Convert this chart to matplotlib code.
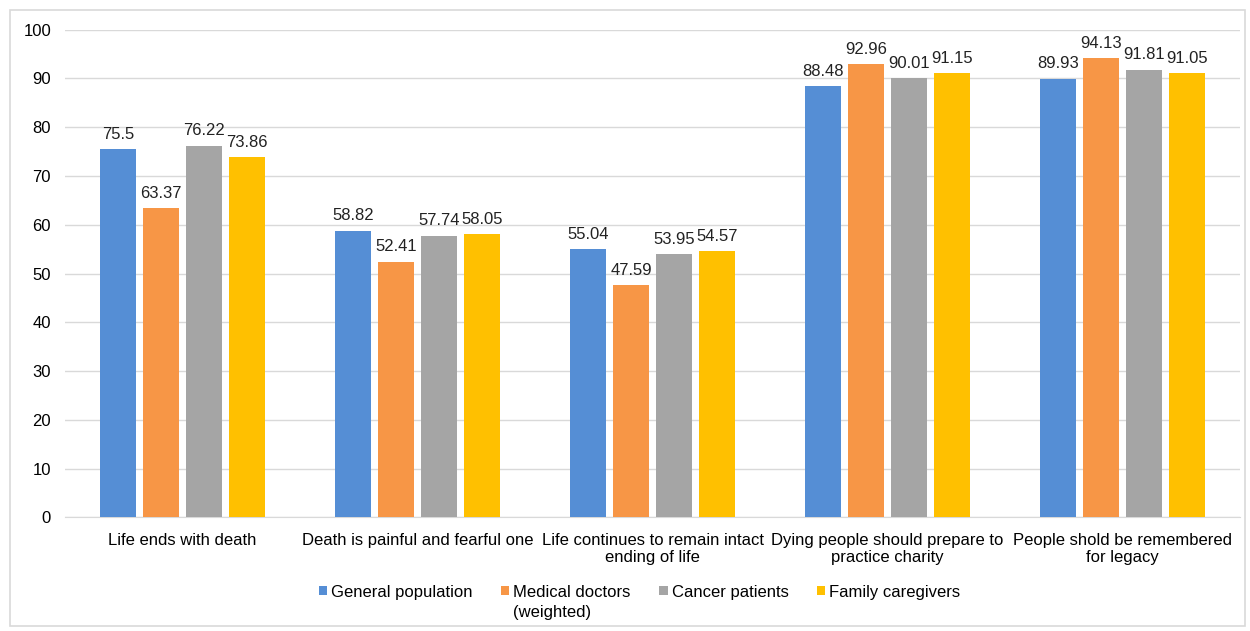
import matplotlib.pyplot as plt
import numpy as np
from matplotlib.patches import Rectangle

plt.rcParams['font.family'] = ['Liberation Sans', 'DejaVu Sans']

categories = [
    "Life ends with death",
    "Death is painful and fearful one",
    "Life continues to remain intact\nending of life",
    "Dying people should prepare to\npractice charity",
    "People shold be remembered\nfor legacy",
]
series_names = ["General population", "Medical doctors", "Cancer patients", "Family caregivers"]
general = [75.5, 58.82, 55.04, 88.48, 89.93]
doctors = [63.37, 52.41, 47.59, 92.96, 94.13]
patients = [76.22, 57.74, 53.95, 90.01, 91.81]
caregivers = [73.86, 58.05, 54.57, 91.15, 91.05]
colors = ["#558ED5", "#F79646", "#A5A5A5", "#FFC000"]
y_ticks = list(range(0, 101, 10))

fig = plt.figure(figsize=(12.5, 6.31), dpi=100)
fig.patches.append(Rectangle((0.008, 0.008), 0.988, 0.976, transform=fig.transFigure,
                             fill=False, edgecolor="#D9D9D9", linewidth=1.2))
ax = fig.add_axes([0.052, 0.18, 0.94, 0.773])

x = np.arange(len(categories))
width = 0.15
step = 0.183
for i, (vals, name, c) in enumerate(zip([general, doctors, patients, caregivers], series_names, colors)):
    pos = x + (i - 1.5) * step
    bars = ax.bar(pos, vals, width, color=c, label=name, zorder=3)
    for b, v in zip(bars, vals):
        ax.text(b.get_x() + b.get_width() / 2, v + 1.5, f"{v:g}", ha="center", va="bottom",
                fontsize=12, color="#222222")

ax.set_xlim(-0.5, len(categories) - 0.5)
ax.set_ylim(0, 100)
ax.set_yticks(y_ticks)
ax.set_xticks(x)
ax.set_xticklabels(categories, fontsize=12, linespacing=1.2)
ax.tick_params(axis="y", labelsize=12, length=0, pad=10)
ax.tick_params(axis="x", length=0, pad=11)
ax.grid(axis="y", color="#D9D9D9", linewidth=1, zorder=0)
for s in ["top", "right", "left"]:
    ax.spines[s].set_visible(False)
ax.spines["bottom"].set_color("#D9D9D9")

leg = ax.legend(loc="center", bbox_to_anchor=(0.489, -0.153), ncol=4, frameon=False,
                fontsize=12, handlelength=0.5, handleheight=0.5, handletextpad=0.25,
                columnspacing=1.7)

# second line of the doctors label sits under the first, like the original
fig.canvas.draw()
bb = leg.get_texts()[1].get_window_extent().transformed(fig.transFigure.inverted())
fig.text(bb.x0, bb.y0 - 0.008, "(weighted)", ha="left", va="top", fontsize=12)

fig.savefig("out.png", dpi=100)
